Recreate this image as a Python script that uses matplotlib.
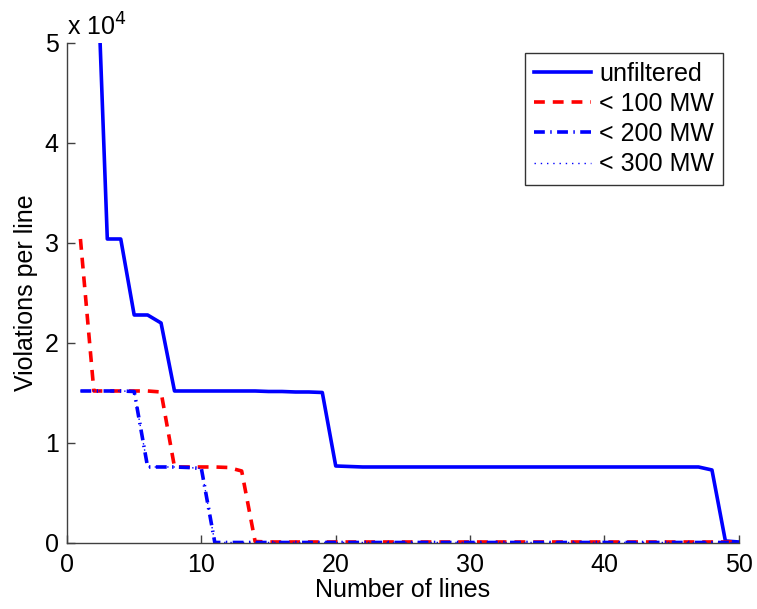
import numpy as np
import matplotlib.pyplot as plt
from matplotlib.ticker import FuncFormatter

# number of lines on the x axis
n_lines = np.arange(1, 51)

flat_unf = [7600] * 26
unfiltered = [110000, 67000, 30400, 30400, 22800, 22800, 22000, 15200, 15200, 15200,
              15200, 15200, 15200, 15200, 15150, 15150, 15100, 15100, 15050, 7700,
              7650, 7600] + flat_unf[:25] + [7300, 200, 100]
below_100 = [30400, 15200, 15200, 15200, 15200, 15200, 15100, 7600, 7600, 7600,
             7600, 7550, 7200, 150] + [100] * 36
below_200 = [15200, 15200, 15200, 15200, 15150, 7600, 7600, 7600, 7550, 7450,
             50] + [50] * 39
below_300 = [15200, 15200, 15200, 15200, 15150, 7600, 7600, 7600, 7550, 7450,
             50] + [50] * 39

legend_labels = ['unfiltered', '< 100 MW', '< 200 MW', '< 300 MW']

plt.rcParams['font.family'] = ['Liberation Sans', 'DejaVu Sans']

fig = plt.figure(figsize=(7.57, 6.09), dpi=100)
ax = fig.add_axes([0.0885, 0.1084, 0.8875, 0.8210])

lw = 2.6
ax.plot(n_lines, unfiltered, color='#0000ff', lw=lw, ls='-', label=legend_labels[0])
ax.plot(n_lines, below_100, color='#ff0000', lw=lw, ls=(0, (3.0, 2.2)), label=legend_labels[1])
ax.plot(n_lines, below_200, color='#0000ff', lw=lw, ls=(0, (3.0, 1.5, 0.4, 1.5)), label=legend_labels[2])
ax.plot(n_lines, below_300, color='#0000ff', lw=1.0, ls=(0, (1, 3.5)), label=legend_labels[3])

ax.set_xlim(0, 50)
ax.set_ylim(0, 50000)
ax.set_xticks(np.arange(0, 51, 10))
ax.set_yticks(np.arange(0, 50001, 10000))
ax.yaxis.set_major_formatter(FuncFormatter(lambda v, p: f'{v / 1e4:g}'))

for side in ('top', 'right'):
    ax.spines[side].set_visible(False)
for side in ('left', 'bottom'):
    ax.spines[side].set_color('#404040')
    ax.spines[side].set_linewidth(1.0)

ax.tick_params(direction='in', length=6, width=1.0, color='#404040',
               labelsize=18)
ax.tick_params(axis='x', pad=7)
ax.tick_params(axis='y', pad=6)
ax.text(0.0, 1.005, r'x 10$^4$', transform=ax.transAxes, fontsize=18,
        ha='left', va='bottom')

ax.set_xlabel('Number of lines', fontsize=18, labelpad=1)
ax.set_ylabel('Violations per line', fontsize=18, labelpad=5)

leg = ax.legend(loc='upper right', bbox_to_anchor=(0.976, 0.98), fontsize=18,
                frameon=True, fancybox=False, edgecolor='black', handlelength=2.3,
                handletextpad=0.3, labelspacing=0.25, borderpad=0.35,
                borderaxespad=0)
leg.get_frame().set_linewidth(1.0)

fig.savefig('out.png', dpi=100)
